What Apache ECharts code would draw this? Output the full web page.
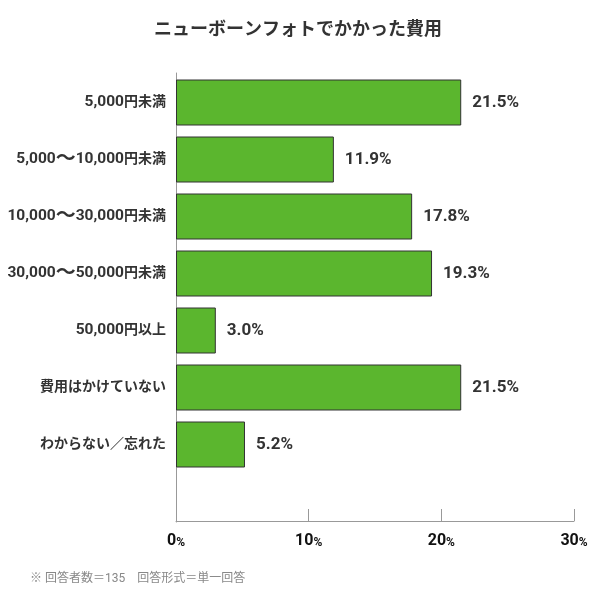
<!DOCTYPE html>
<html>
<head>
<meta charset="utf-8">
<script src="https://cdn.jsdelivr.net/npm/echarts@6/dist/echarts.min.js"></script>
<style>
    html, body { margin: 0; padding: 0; background: #fff; }
    #chart { width: 596px; height: 600px; }
</style>
</head>
<body>
<div id="chart"></div>
<script>
const categories = ['5,000円未満', '5,000〜10,000円未満', '10,000〜30,000円未満', '30,000〜50,000円未満', '50,000円以上', '費用はかけていない', 'わからない／忘れた'];
const values = [21.5, 11.9, 17.8, 19.3, 3.0, 21.5, 5.2];
const titleText = 'ニューボーンフォトでかかった費用';
const noteText = '※ 回答者数＝135　回答形式＝単一回答';

const FONT = "Roboto, 'Noto Sans CJK JP', sans-serif";
let myChart = echarts.init(document.getElementById('chart'));

// 数字・記号・和文でサイズを分ける
function labelRich(text) {
    let out = '';
    let parts = text.match(/[0-9,]+|〜|[^0-9,〜]+/g) || [];
    parts.forEach(s => {
        if (/^[0-9,]+$/.test(s)) {
            out += '{d|' + s + '}';
        } else if (s === '〜') {
            out += '{w|' + s + '}';
        } else {
            out += '{j|' + s + '}';
        }
    });
    return out;
}

let option = {
    animation: false,
    title: [
        {
            text: titleText,
            left: 'center',
            top: 17,
            textStyle: { color: '#333', fontSize: 18, fontWeight: 'bold', fontFamily: FONT }
        },
        {
            text: noteText,
            left: 25,
            top: 568,
            textStyle: { color: '#888', fontSize: 12, fontWeight: 'normal', fontFamily: FONT }
        }
    ],
    grid: [
        { left: 176, top: 74, width: 398, height: 399 }, // bars
        { left: 176, top: 73, width: 398, height: 449 }  // long y axis line only
    ],
    xAxis: [
        {
            gridIndex: 0,
            type: 'value',
            min: 0,
            max: 30,
            interval: 10,
            offset: 48,
            axisLine: { show: true, lineStyle: { color: '#999', width: 1 } },
            axisTick: { show: true, inside: true, length: 12, lineStyle: { color: '#999' } },
            splitLine: { show: false },
            axisLabel: {
                margin: 12,
                formatter: (v) => '{n|' + v + '}{p|%}',
                rich: {
                    n: { fontSize: 16, fontWeight: 'bold', color: '#111', fontFamily: FONT },
                    p: { fontSize: 12, fontWeight: 'bold', color: '#111', fontFamily: FONT, padding: [3, 0, 0, 0] }
                }
            }
        },
        { gridIndex: 1, type: 'value', show: false, min: 0, max: 30 }
    ],
    yAxis: [
        {
            gridIndex: 0,
            type: 'category',
            inverse: true,
            data: categories,
            axisLine: { show: false },
            axisTick: { show: false },
            axisLabel: {
                margin: 10,
                formatter: labelRich,
                rich: {
                    d: { fontSize: 15.5, fontWeight: 'bold', color: '#333', fontFamily: FONT },
                    w: { fontSize: 20, fontWeight: 'bold', color: '#333', fontFamily: FONT },
                    j: { fontSize: 14, fontWeight: 'bold', color: '#333', fontFamily: FONT }
                }
            }
        },
        {
            gridIndex: 1,
            type: 'category',
            data: [''],
            axisLine: { show: true, lineStyle: { color: '#999', width: 1 } },
            axisTick: { show: false },
            axisLabel: { show: false }
        }
    ],
    series: [
        {
            type: 'bar',
            xAxisIndex: 0,
            yAxisIndex: 0,
            data: values,
            barWidth: 46,
            itemStyle: { color: '#5bb62e', borderColor: '#333', borderWidth: 1 },
            label: {
                show: true,
                position: 'right',
                distance: 11,
                formatter: (p) => p.value.toFixed(1) + '%',
                color: '#333',
                fontSize: 17,
                fontWeight: 'bold',
                fontFamily: FONT
            }
        }
    ]
};
myChart.setOption(option);
</script>
</body>
</html>
